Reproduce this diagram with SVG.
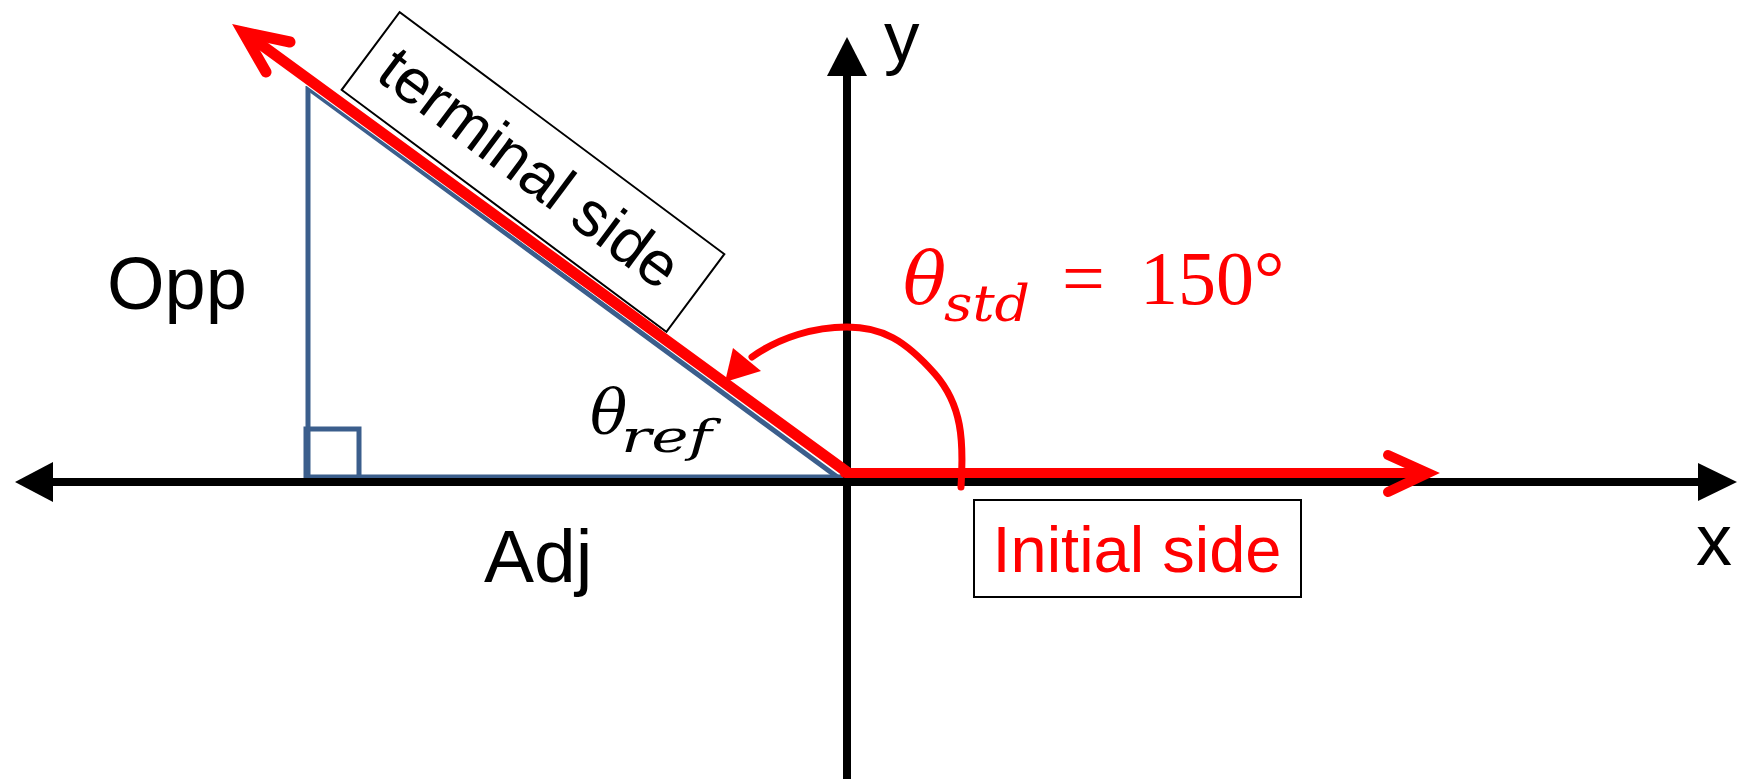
<svg xmlns="http://www.w3.org/2000/svg" width="1748" height="779" viewBox="0 0 1748 779">
  <style>
    .axis { stroke: #000; stroke-width: 8; fill: none; }
    .blue { stroke: #3B5E8C; stroke-width: 5; fill: none; }
    .red { stroke: #FF0000; fill: none; stroke-linecap: round; stroke-linejoin: miter; }
    .lbl { font-family: "Liberation Sans", Arial, sans-serif; fill: #000; }
    .math { font-family: "DejaVu Serif", "Liberation Serif", serif; font-style: italic; }
    .mathup { font-family: "Liberation Serif", "Times New Roman", serif; }
  </style>
  <rect width="1748" height="779" fill="#fff"/>

  <g id="triangle">
    <line class="blue" x1="308" y1="86" x2="308" y2="480"/>
    <line class="blue" x1="308" y1="88" x2="840" y2="479" stroke-width="5.5"/>
    <line class="blue" x1="306" y1="477" x2="843" y2="477" stroke-width="3"/>
    <rect class="blue" x="306" y="429" width="53" height="49"/>
  </g>

  <g id="axes">
    <line class="axis" x1="50" y1="482" x2="1700" y2="482"/>
    <polygon points="15,482 53,462 53,502" fill="#000"/>
    <polygon points="1737,482 1698,463 1698,501" fill="#000"/>
    <line class="axis" x1="847" y1="74" x2="847" y2="779"/>
    <polygon points="847,37 827,76 867,76" fill="#000"/>
  </g>

  <g id="terminal-box">
    <g transform="translate(533,172) rotate(36.7)">
      <rect x="-202.5" y="-48.5" width="405" height="97" fill="#fff" stroke="#000" stroke-width="2"/>
      <text class="lbl" x="-5" y="20" font-size="63" text-anchor="middle">terminal side</text>
    </g>
  </g>

  <g id="connectors">
    <line x1="835" y1="463" x2="300" y2="74" stroke="#fff" stroke-width="11.5"/>
    <line class="red" x1="847" y1="472" x2="245" y2="33" stroke-width="11"/>
    <polyline class="red" points="290,42 243,32 266,72" stroke-width="11"/>
    <line class="red" x1="845" y1="473" x2="1425" y2="473" stroke-width="10" stroke-linecap="butt"/>
    <polyline class="red" points="1388,455 1428,473 1388,492" stroke-width="10"/>
    <path class="red" d="M 961 487 C 964 440, 962 405, 935 374 C 905 340, 882 327, 847 327 C 815 327, 780 337, 752 357" stroke-width="7" stroke-linecap="butt"/>
    <polygon points="725,382 733,348 761,371" fill="#FF0000"/>
  </g>

  <g id="initial-box">
    <rect x="974" y="500" width="327" height="97" fill="#fff" stroke="#000" stroke-width="2"/>
    <text class="lbl" x="1137" y="572" font-size="65" text-anchor="middle" style="fill:#FF0000">Initial side</text>
  </g>

  <g id="labels">
    <text class="lbl" x="884" y="61" font-size="71">y</text>
    <text class="lbl" x="1696" y="565" font-size="72">x</text>
    <text class="lbl" x="107" y="309" font-size="74">Opp</text>
    <text class="lbl" x="484" y="582" font-size="75">Adj</text>
  </g>

  <g id="theta-ref">
    <text class="math" x="590" y="433" font-size="62" fill="#000">θ</text>
    <text class="math" x="621" y="452" font-size="44" fill="#000" textLength="91" lengthAdjust="spacingAndGlyphs">ref</text>
  </g>

  <g id="theta-std" fill="#FF0000">
    <text class="math" x="903" y="304" font-size="72">θ</text>
    <text class="math" x="944" y="321" font-size="50" textLength="86" lengthAdjust="spacingAndGlyphs">std</text>
    <text class="mathup" x="1062" y="304" font-size="76">=</text>
    <text class="mathup" x="1140" y="304" font-size="76">150°</text>
  </g>
</svg>
